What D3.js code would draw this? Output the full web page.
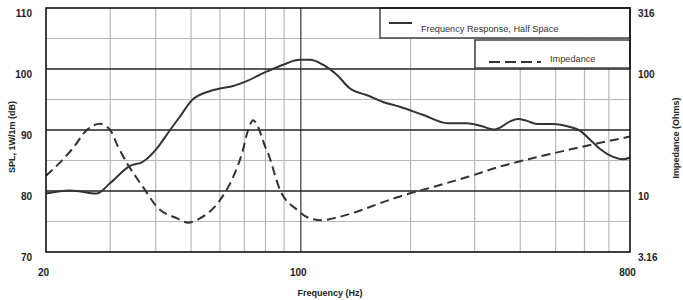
<!DOCTYPE html>
<html><head><meta charset="utf-8">
<script src="https://cdn.jsdelivr.net/npm/d3@7"></script>
<style>
html,body{margin:0;padding:0;background:#fff;}
svg{display:block;font-family:"Liberation Sans",Arial,Helvetica,sans-serif;}
</style></head>
<body>
<svg id="chart" width="683" height="300"></svg>
<script>
// ---- data ----
const splFreq = [20,23.3,27.6,30,34,36.9,40.3,43.8,46.6,50.3,56.4,60,65.2,70.3,80.8,89.4,99.5,106,115,125.7,136.5,152,168,187,216,253,286,310,341,352,375,394,417,445,492,548,583,622,662,719,766,800];
const splDb   = [79.6,80.1,79.6,81.3,84.1,84.8,87.0,90.0,92.2,94.9,96.4,96.8,97.2,97.9,99.6,100.7,101.5,101.5,100.7,99.0,96.8,95.7,94.6,93.8,92.5,91.1,91.1,90.7,90.1,90.4,91.4,91.8,91.5,91.0,91.0,90.5,89.9,88.4,86.9,85.6,85.2,85.5];
const impFreq = [20,21.8,23.7,25.9,28.1,30,31.5,33.4,36.9,40.3,45.8,49.1,52.9,60,65.2,69,71.7,74,76.3,79.8,81.3,87.7,97.7,106,115,122.6,142.6,165,187,231,286,352,434,538,662,800];
const impOhm  = [13.3,17.0,22.4,31.6,35.5,31.6,23.2,16.8,10.8,7.41,5.96,5.5,5.96,8.41,13.0,20.4,31.6,38.0,33.5,23.2,20.4,10.2,7.0,5.96,5.75,5.96,6.76,7.94,9.02,10.8,13.0,15.85,18.6,21.6,24.8,27.9];
const xTickLabels = [20,100,800];
const xGridMinor = [30,40,50,60,70,80,90,200,300,400,500,600,700];
const xGridMajor = [100];
const yTickLabels = [70,80,90,100,110];
const yGridMajor = [80,90,100];
const yGridMinor = [75,85,95,105];
const zTickLabels = [3.16,10,100,316];
const legendLabels = ["Frequency Response, Half Space","Impedance"];

// ---- layout ----
const L=46, R=630, T=8, B=252;
const svg = d3.select("#chart");
const x = d3.scaleLog().domain([20,800]).range([L,R]);
const y = d3.scaleLinear().domain([70,110]).range([B,T]);
const z = d3.scaleLog().domain([3.16,316]).range([B,T]);

// grid
svg.append("g").selectAll("line").data(xGridMinor).join("line")
  .attr("x1",d=>x(d)).attr("x2",d=>x(d)).attr("y1",T).attr("y2",B)
  .attr("stroke","#b8b8b8").attr("stroke-width",1.2);
svg.append("g").selectAll("line").data(yGridMinor).join("line")
  .attr("x1",L).attr("x2",R).attr("y1",d=>y(d)).attr("y2",d=>y(d))
  .attr("stroke","#b8b8b8").attr("stroke-width",1.2);
svg.append("g").selectAll("line").data(xGridMajor).join("line")
  .attr("x1",d=>x(d)).attr("x2",d=>x(d)).attr("y1",T).attr("y2",B)
  .attr("stroke","#444").attr("stroke-width",1.3);
svg.append("g").selectAll("line").data(yGridMajor).join("line")
  .attr("x1",L).attr("x2",R).attr("y1",d=>y(d)).attr("y2",d=>y(d))
  .attr("stroke","#222").attr("stroke-width",1.3);

// curves
const splLine = d3.line().x(d=>x(d[0])).y(d=>y(d[1])).curve(d3.curveMonotoneX);
const impLine = d3.line().x(d=>x(d[0])).y(d=>z(d[1])).curve(d3.curveMonotoneX);
svg.append("path").datum(splFreq.map((f,i)=>[f,splDb[i]]))
  .attr("d",splLine).attr("fill","none").attr("stroke","#333").attr("stroke-width",2);
svg.append("path").datum(impFreq.map((f,i)=>[f,impOhm[i]]))
  .attr("d",impLine).attr("fill","none").attr("stroke","#333").attr("stroke-width",2)
  .attr("stroke-dasharray","9,5");

// legend
const lg = svg.append("g");
lg.append("rect").attr("x",380).attr("y",T).attr("width",R-380).attr("height",30)
  .attr("fill","#fff").attr("stroke","#444").attr("stroke-width",1.5);
lg.append("line").attr("x1",389).attr("x2",412).attr("y1",23).attr("y2",23)
  .attr("stroke","#333").attr("stroke-width",2);
lg.append("text").attr("x",421).attr("y",32).text(legendLabels[0])
  .attr("font-size",9.2).attr("fill","#333");
lg.append("rect").attr("x",475).attr("y",40).attr("width",R-475).attr("height",28)
  .attr("fill","#fff").attr("stroke","#444").attr("stroke-width",1.5);
lg.append("line").attr("x1",489).attr("x2",541).attr("y1",62).attr("y2",62)
  .attr("stroke","#333").attr("stroke-width",2).attr("stroke-dasharray","11,5");
lg.append("text").attr("x",550).attr("y",62).text(legendLabels[1])
  .attr("font-size",9.2).attr("fill","#333");

// frame
svg.append("rect").attr("x",L).attr("y",T).attr("width",R-L).attr("height",B-T)
  .attr("fill","none").attr("stroke","#111").attr("stroke-width",1.6);

// axes using d3 axis, with hidden domain/ticks
const axL = svg.append("g").attr("transform",`translate(${L},0)`)
  .call(d3.axisLeft(y).tickValues(yTickLabels).tickSize(0).tickPadding(14).tickFormat(d3.format("d")));
const axR = svg.append("g").attr("transform",`translate(${R},0)`)
  .call(d3.axisRight(z).tickValues(zTickLabels).tickSize(0).tickPadding(8).tickFormat(d=>String(d)));
const axB = svg.append("g").attr("transform",`translate(0,${B})`)
  .call(d3.axisBottom(x).tickValues(xTickLabels).tickSize(0).tickPadding(17).tickFormat(d3.format("d")));
[axL,axR,axB].forEach(a=>{
  a.select(".domain").remove();
  a.selectAll("text").attr("font-size",10).attr("font-weight","bold").attr("fill","#222")
   .attr("font-family","'Liberation Sans',Arial,sans-serif");
});
axL.selectAll("text").attr("dy","0.85em");
axR.selectAll("text").attr("dy","0.85em");
axB.selectAll("text").attr("dx","-3");

// axis titles
svg.append("text").attr("transform","translate(15,137) rotate(-90)").attr("text-anchor","middle")
  .attr("font-size",9).attr("font-weight","bold").attr("fill","#222").text("SPL, 1W/1m (dB)");
svg.append("text").attr("transform","translate(679,138) rotate(-90)").attr("text-anchor","middle")
  .attr("font-size",9).attr("font-weight","bold").attr("fill","#222").text("Impedance (Ohms)");
svg.append("text").attr("x",330).attr("y",296).attr("text-anchor","middle")
  .attr("font-size",9).attr("font-weight","bold").attr("fill","#222").text("Frequency (Hz)");
</script>
</body></html>
